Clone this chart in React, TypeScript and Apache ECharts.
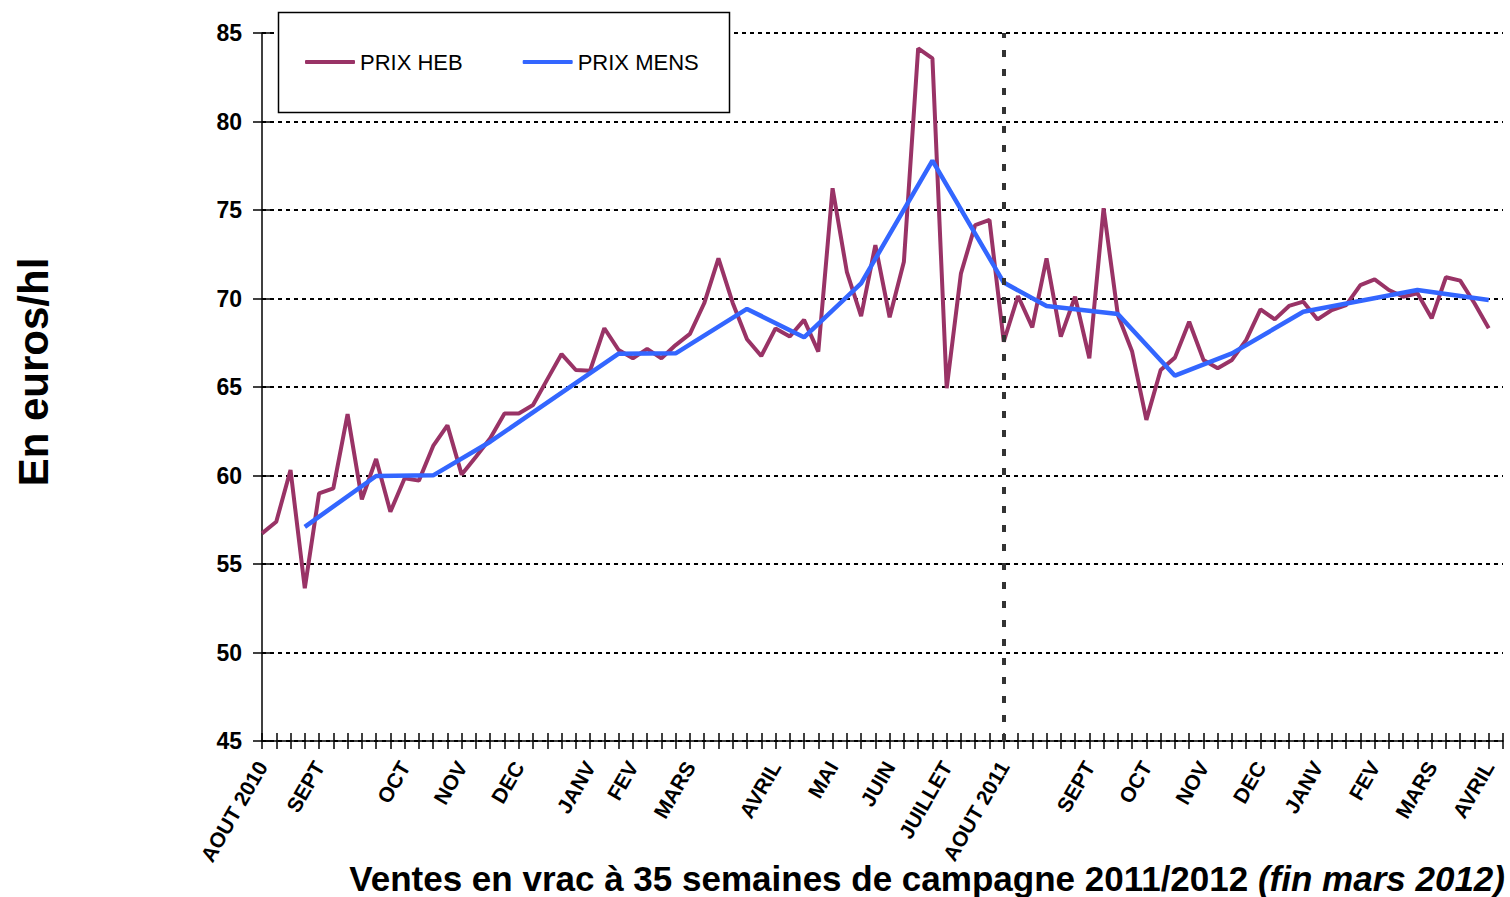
import React, { useEffect, useRef } from "react";
import * as echarts from "echarts";

const FONT = "'Liberation Sans', Arial, sans-serif";

// label text at given weekly index (88 weekly points, 0..87)
const labelIdx: number[] = [0, 4, 10, 14, 18, 23, 26, 30, 36, 40, 44, 48, 52, 58, 62, 66, 70, 74, 78, 82, 86];
const labelTxt: string[] = [
  "AOUT 2010", "SEPT", "OCT", "NOV", "DEC", "JANV", "FEV", "MARS", "AVRIL", "MAI", "JUIN", "JUILLET",
  "AOUT 2011", "SEPT", "OCT", "NOV", "DEC", "JANV", "FEV", "MARS", "AVRIL",
];
const N_WEEKS = 88;

const prixHeb: (number | null)[] = [
  56.73, 57.39, 60.31, 53.63, 58.99, 59.27, 63.47, 58.65, 60.93, 57.95,
  59.84, 59.71, 61.67, 62.83, 60.05, 61.06, 62.1, 63.5, 63.5, 63.98,
  65.43, 66.86, 65.96, 65.92, 68.32, 67.09, 66.62, 67.15, 66.62, 67.37,
  68.0, 69.73, 72.27, 69.75, 67.7, 66.75, 68.31, 67.85, 68.79, 67.0,
  76.23, 71.51, 69.01, 73.02, 68.94, 72.08, 84.13, 83.57, 64.93, 71.42,
  74.15, 74.44, 67.56, 70.14, 68.37, 72.27, 67.85, 70.1, 66.62, 75.1,
  69.07, 67.0, 63.14, 65.96, 66.66, 68.69, 66.53, 66.06, 66.53, 67.66,
  69.39, 68.82, 69.58, 69.82, 68.82, 69.35, 69.63, 70.76, 71.08, 70.48,
  70.1, 70.29, 68.88, 71.2, 71.01, 69.73, 68.32, null,
];

const mensIdx: number[] = [3, 8, 12, 16, 25, 29, 34, 38, 42, 47, 52, 55, 60, 64, 68, 73, 81, 86];
const mensVal: number[] = [57.1, 59.97, 60.01, 61.91, 66.88, 66.9, 69.41, 67.81, 70.86, 77.79, 70.9, 69.58, 69.12, 65.64, 66.9, 69.25, 70.48, 69.92];

const yTicks = { min: 45, max: 85, interval: 5 };

export default function App() {
  const ref = useRef<HTMLDivElement>(null);
  useEffect(() => {
    if (!ref.current) return;
    const chart = echarts.init(ref.current, undefined, { renderer: "svg" });
    const cats: string[] = [];
    for (let i = 0; i < N_WEEKS; i++) cats.push("");
    labelIdx.forEach((ix, k) => (cats[ix] = labelTxt[k]));
    const mens: (number | null)[] = cats.map(() => null);
    mensIdx.forEach((ix, k) => (mens[ix] = mensVal[k]));

    chart.setOption({
      animation: false,
      backgroundColor: "#fff",
      grid: { left: 262, right: 7, top: 33, bottom: 156, containLabel: false },
      legend: {
        left: 305,
        top: 51,
        padding: 0,
        itemWidth: 50,
        itemHeight: 4,
        itemGap: 60,
        icon: "roundRect",
        z: 5,
        textStyle: { fontSize: 22, color: "#000", fontFamily: FONT },
        data: ["PRIX HEB", "PRIX MENS"],
      },
      graphic: [
        {
          type: "rect",
          z: 4,
          shape: { x: 278.5, y: 12.5, width: 451, height: 100 },
          style: { fill: "#fff", stroke: "#000", lineWidth: 1.5 },
        },
        {
          type: "text",
          x: 33,
          y: 372,
          rotation: Math.PI / 2,
          style: {
            text: "En euros/hl",
            font: `bold 42px ${FONT}`,
            fill: "#000",
            align: "center",
            verticalAlign: "middle",
          },
        },
        {
          type: "text",
          x: 1505,
          y: 878,
          style: {
            text: "{a|Ventes en vrac à 35 semaines de campagne 2011/2012 }{b|(fin mars 2012)}",
            align: "right",
            verticalAlign: "middle",
            rich: {
              a: { fontSize: 35, fontWeight: "bold", fontFamily: FONT, fill: "#000", color: "#000" },
              b: { fontSize: 35, fontWeight: "bold", fontStyle: "italic", fontFamily: FONT, fill: "#000", color: "#000" },
            },
          },
        },
      ],
      xAxis: [
        {
          type: "category",
          data: cats,
          boundaryGap: false,
          axisLine: { lineStyle: { color: "#000", width: 1.5 } },
          axisTick: { show: true, interval: 0, length: 8, lineStyle: { color: "#000", width: 1.5 } },
          axisLabel: {
            interval: 0,
            rotate: 60,
            margin: 22,
            fontSize: 21,
            fontWeight: "bold",
            fontFamily: FONT,
            color: "#000",
          },
          splitLine: { show: false },
        },
        {
          type: "category",
          data: cats,
          position: "bottom",
          boundaryGap: false,
          axisLine: { show: false },
          axisTick: { show: true, inside: true, interval: 0, length: 8, lineStyle: { color: "#000", width: 1.5 } },
          axisLabel: { show: false },
          splitLine: { show: false },
        },
      ],
      yAxis: [
        {
          type: "value",
          min: yTicks.min,
          max: yTicks.max,
          interval: yTicks.interval,
          axisLine: { show: true, lineStyle: { color: "#000", width: 1.5 } },
          axisTick: { show: true, length: 9, lineStyle: { color: "#000", width: 1.5 } },
          axisLabel: { margin: 20, fontSize: 23, fontWeight: "bold", fontFamily: FONT, color: "#000" },
          splitLine: { show: true, lineStyle: { color: "#000", width: 2, type: [4, 4] } },
        },
        {
          type: "value",
          min: yTicks.min,
          max: yTicks.max,
          interval: yTicks.interval,
          position: "left",
          axisLine: { show: false },
          axisTick: { show: true, inside: true, length: 9, lineStyle: { color: "#000", width: 1.5 } },
          axisLabel: { show: false },
          splitLine: { show: false },
        },
      ],
      series: [
        {
          name: "PRIX HEB",
          type: "line",
          data: prixHeb,
          symbol: "none",
          color: "#993366",
          lineStyle: { width: 4, color: "#993366" },
          z: 3,
          markLine: {
            silent: true,
            symbol: ["none", "none"],
            label: { show: false },
            lineStyle: { color: "#333", width: 4, type: [7, 12] },
            data: [{ xAxis: 52 }],
          },
        },
        {
          name: "PRIX MENS",
          type: "line",
          data: mens,
          connectNulls: true,
          symbol: "none",
          color: "#3366ff",
          lineStyle: { width: 4.5, color: "#3366ff" },
          z: 4,
        },
      ],
    });
    return () => chart.dispose();
  }, []);
  return <div ref={ref} style={{ position: "absolute", left: 0, top: 0, width: 1510, height: 897 }} />;
}
